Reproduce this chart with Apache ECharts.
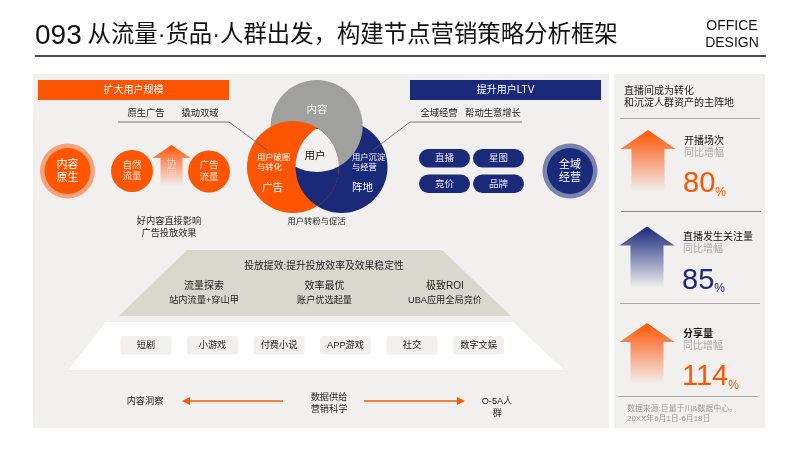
<!DOCTYPE html>
<html>
<head>
<meta charset="utf-8"/>
<title>节点营销策略分析框架</title>
<style>
    html, body { margin: 0; padding: 0; background: #fff; }
    #main { width: 800px; height: 450px; }
</style>
</head>
<body>
<div id="main"></div>
<script src="https://cdn.jsdelivr.net/npm/echarts@6/dist/echarts.min.js"></script>
<script>
// 文案与数据
var titleNo = '093';
var titleText = '从流量·货品·人群出发，构建节点营销策略分析框架';
var brandLines = ['OFFICE', 'DESIGN'];
var headers = ['扩大用户规模', '提升用户LTV'];
var leftTags = ['原生广告', '撬动双域'];
var rightTags = ['全域经营', '帮动生意增长'];
var pills = ['直播', '星图', '竞价', '品牌'];
var funnelColumns = ['流量探索', '效率最优', '极致ROI'];
var funnelSubs = ['站内流量+穿山甲', '账户优选起量', 'UBA应用全局竞价'];
var chips = ['短剧', '小游戏', '付费小说', 'APP游戏', '社交', '数字文娱'];
var metricNames = ['开播场次', '直播发生关注量', '分享量'];
var metricValues = [80, 85, 114];

var ORANGE = '#fe5502';
var NAVY = '#1b2a78';
var PANEL = '#f1f0ee';
var FONT = '"Liberation Sans", "Noto Sans CJK SC", sans-serif';

var items = [];

function rect(x, y, w, h, fill, r) {
    items.push({ type: 'rect', shape: { x: x, y: y, width: w, height: h, r: r || 0 }, style: { fill: fill } });
}
function circle(cx, cy, r, fill) {
    items.push({ type: 'circle', shape: { cx: cx, cy: cy, r: r }, style: { fill: fill } });
}
function poly(points, fill) {
    items.push({ type: 'polygon', shape: { points: points }, style: { fill: fill } });
}
function line(points, color, width) {
    items.push({ type: 'polyline', shape: { points: points }, style: { stroke: color, lineWidth: width || 1, fill: null } });
}
function txt(s, x, y, size, color, align, weight, lh) {
    items.push({
        type: 'text',
        style: {
            text: s, x: x, y: y, fill: color || '#222',
            font: (weight || 'normal') + ' ' + size + 'px ' + FONT,
            align: align || 'center', verticalAlign: 'middle',
            lineHeight: lh || size * 1.2
        }
    });
}
// 渐隐的向上箭头
function upArrow(cx, tip, headBase, bottom, headHalf, shaftHalf, color) {
    poly([
        [cx, tip], [cx + headHalf, headBase], [cx + shaftHalf, headBase], [cx + shaftHalf, bottom],
        [cx - shaftHalf, bottom], [cx - shaftHalf, headBase], [cx - headHalf, headBase]
    ], new echarts.graphic.LinearGradient(0, 0, 0, 1, [
        { offset: 0, color: color },
        { offset: 0.4, color: color === ORANGE ? '#fa9164' : '#6b75a8' },
        { offset: 1, color: PANEL }
    ]));
}
function hArrow(x1, x2, y) {
    var d = x2 > x1 ? 1 : -1;
    line([[x1, y], [x2 - d * 6, y]], ORANGE, 1.3);
    poly([[x2, y], [x2 - d * 8, y - 4], [x2 - d * 8, y + 4]], ORANGE);
}

// 标题
txt(titleNo, 35, 36, 28, '#111', 'left');
txt(titleText, 87.5, 36, 23.4, '#111', 'left');
txt(brandLines.join('\n'), 732, 35, 14, '#111', 'center', 'normal', 17);
line([[35, 56], [766, 56]], '#111', 1.4);

// 底板
rect(33, 74, 576, 354, PANEL);
rect(614, 74, 151, 354, PANEL);

// 左右标题条
rect(38, 80, 191, 20, ORANGE);
txt(headers[0], 133.5, 90, 10, '#fff');
rect(410, 80, 191, 20, NAVY);
txt(headers[1], 505.5, 90, 10, '#fff');

leftTags.forEach(function (s, i) { txt(s, 146 + i * 54, 113, 9.3, '#222'); });
txt(rightTags[0], 439, 113, 9.3, '#222');
txt(rightTags[1], 493, 113, 9.3, '#222');

// 左侧圆
circle(67.5, 171, 27.5, '#f7a27c');
circle(67.5, 171, 23, ORANGE);
txt('内容\n原生', 67.5, 171, 11, '#fff', 'center', 'normal', 13);
circle(132, 171, 21, ORANGE);
txt('自然\n流量', 132, 171, 9.5, '#fde3d6', 'center', 'normal', 11.5);
circle(209, 171.5, 21, ORANGE);
txt('广告\n流量', 209, 171.5, 9.5, '#fde3d6', 'center', 'normal', 11.5);
upArrow(171.5, 145, 158, 186, 19, 11, ORANGE);
txt('协\n同', 171.5, 169, 10, '#fcd0ba', 'center', 'normal', 10.5);
txt('好内容直接影响\n广告投放效果', 169, 227.5, 9.2, '#222', 'center', 'normal', 11.5);

// 三环：灰压蓝、蓝压橙、橙压灰，中间留白
var R = 46;
var cGray = [316.7, 126], cOrange = [293, 167], cBlue = [341.5, 167];
function meet(a, b, third) {
    var dx = b[0] - a[0], dy = b[1] - a[1], d = Math.sqrt(dx * dx + dy * dy);
    var h = Math.sqrt(R * R - d * d / 4), mx = (a[0] + b[0]) / 2, my = (a[1] + b[1]) / 2;
    var p1 = [mx - dy / d * h, my + dx / d * h], p2 = [mx + dy / d * h, my - dx / d * h];
    var inThird = Math.pow(p1[0] - third[0], 2) + Math.pow(p1[1] - third[1], 2) < R * R;
    return inThird ? [p1, p2] : [p2, p1];
}
function arc(p, sweep) {
    return 'A' + R + ' ' + R + ' 0 0 ' + sweep + ' ' + p[0] + ' ' + p[1];
}
var ob = meet(cOrange, cBlue, cGray);
var gb = meet(cGray, cBlue, cOrange);
var og = meet(cOrange, cGray, cBlue);
echarts.graphic.registerShape('vennLens', echarts.graphic.extendPath(
    'M' + ob[0][0] + ' ' + ob[0][1] + arc(ob[1], 1) + arc(ob[0], 1) + 'Z', {}));
echarts.graphic.registerShape('vennCore', echarts.graphic.extendPath(
    'M' + ob[0][0] + ' ' + ob[0][1] + arc(gb[0], 0) + arc(og[0], 0) + arc(ob[0], 0) + 'Z', {}));

circle(cBlue[0], cBlue[1], R, NAVY);
circle(cGray[0], cGray[1], R, '#a0a09f');
circle(cOrange[0], cOrange[1], R, ORANGE);
items.push({ type: 'vennLens', style: { fill: NAVY } });
items.push({ type: 'vennCore', style: { fill: PANEL } });
txt('内容', 317, 110, 10.5, '#f1f0ee');
txt('用户', 315, 156, 10.5, '#111');
txt('用户破圈\n与转化', 257, 163, 8.3, '#fff', 'left', 'normal', 10);
txt('广告', 272.5, 188, 10.5, '#fff');
txt('用户沉淀\n与经营', 352, 163, 8.3, '#fff', 'left', 'normal', 10);
txt('阵地', 362.5, 188, 10.5, '#fff');
txt('用户转粉与促活', 316.5, 221.5, 8.3, '#222');

// 引线
line([[118, 122], [229, 122], [267, 150]], '#555', 0.8);
line([[522, 122], [410, 122], [373, 150]], '#555', 0.8);

// 右侧胶囊与圆
pills.forEach(function (s, i) {
    var x = 419 + (i % 2) * 54, y = 149 + Math.floor(i / 2) * 25.5;
    rect(x, y, 51, 18.5, NAVY, 9.25);
    txt(s, x + 25.5, y + 9.5, 9.5, '#e8e9f2');
});
circle(570, 171, 27.5, '#7b83ae');
circle(570, 171, 23, NAVY);
txt('全域\n经营', 570, 171, 11, '#fff', 'center', 'normal', 13);

// 金字塔两层
poly([[187, 250], [442, 250], [511, 316], [119, 316]], '#d9d8ce');
txt('投放提效:提升投放效率及效果稳定性', 324, 266, 9.8, '#222');
funnelColumns.forEach(function (s, i) {
    var x = 204 + i * 120.5;
    txt(s, x, 286, 10, '#222');
    txt(funnelSubs[i], x, 300, 9.2, '#222');
});
poly([[106, 322], [513, 322], [564, 370], [68, 370]], '#fff');
chips.forEach(function (s, i) {
    var x = 120.5 + i * 66.5;
    rect(x, 336, 51, 18.5, '#f1f0ee', 2);
    txt(s, x + 25.5, 345.5, 9.2, '#222');
});

// 底部箭头行
txt('内容洞察', 145, 401, 9.2, '#222');
hArrow(283, 182, 401);
txt('数据供给\n营销科学', 329, 403, 9.2, '#222', 'center', 'normal', 12);
hArrow(364, 465, 401);
txt('O-5A人\n群', 497, 407, 9.2, '#222', 'center', 'normal', 12);

// 右侧指标
txt('直播间成为转化\n和沉淀人群资产的主阵地', 624, 97, 10, '#222', 'left', 'normal', 12);
var rowLines = [[620, 118.5, '#aaa'], [621, 211.5, '#888'], [620, 303.5, '#aaa'], [618, 396.5, '#aaa']];
rowLines.forEach(function (l) { line([[l[0], l[1]], [l[0] + 140, l[1]]], l[2], 1); });

metricNames.forEach(function (name, i) {
    var dy = i * 96.5;
    var color = i === 1 ? NAVY : ORANGE;
    upArrow(648 - (i ? 1 : 0), 130 + dy, 149 + dy, 192 + dy - (i ? 1 : 0), 27.5, 16.5, color);
    var tx = i ? 683 : 684;
    txt(name, tx, 141 + dy, 10, '#111', 'left', i === 2 ? 'bold' : 'normal');
    txt('同比增幅', tx, 153 + dy, 10, '#aaa', 'left');
    items.push({
        type: 'text',
        style: {
            text: '{v|' + metricValues[i] + '}{p|%}', x: tx - 1, y: 184 + dy, verticalAlign: 'middle',
            rich: {
                v: { font: '29px ' + FONT, fill: color },
                p: { font: '12px ' + FONT, fill: color, verticalAlign: 'bottom', padding: [5, 0, 0, 0] }
            }
        }
    });
});

txt('数据来源:巨量于川&数据中心。\n20XX年6月1日-6月18日', 627, 414, 7.9, '#9a9a9a', 'left', 'normal', 10);

var chart = echarts.init(document.getElementById('main'));
chart.setOption({
    backgroundColor: '#fff',
    animation: false,
    graphic: { elements: items.map(function (el) { el.silent = true; return el; }) }
});
</script>
</body>
</html>
